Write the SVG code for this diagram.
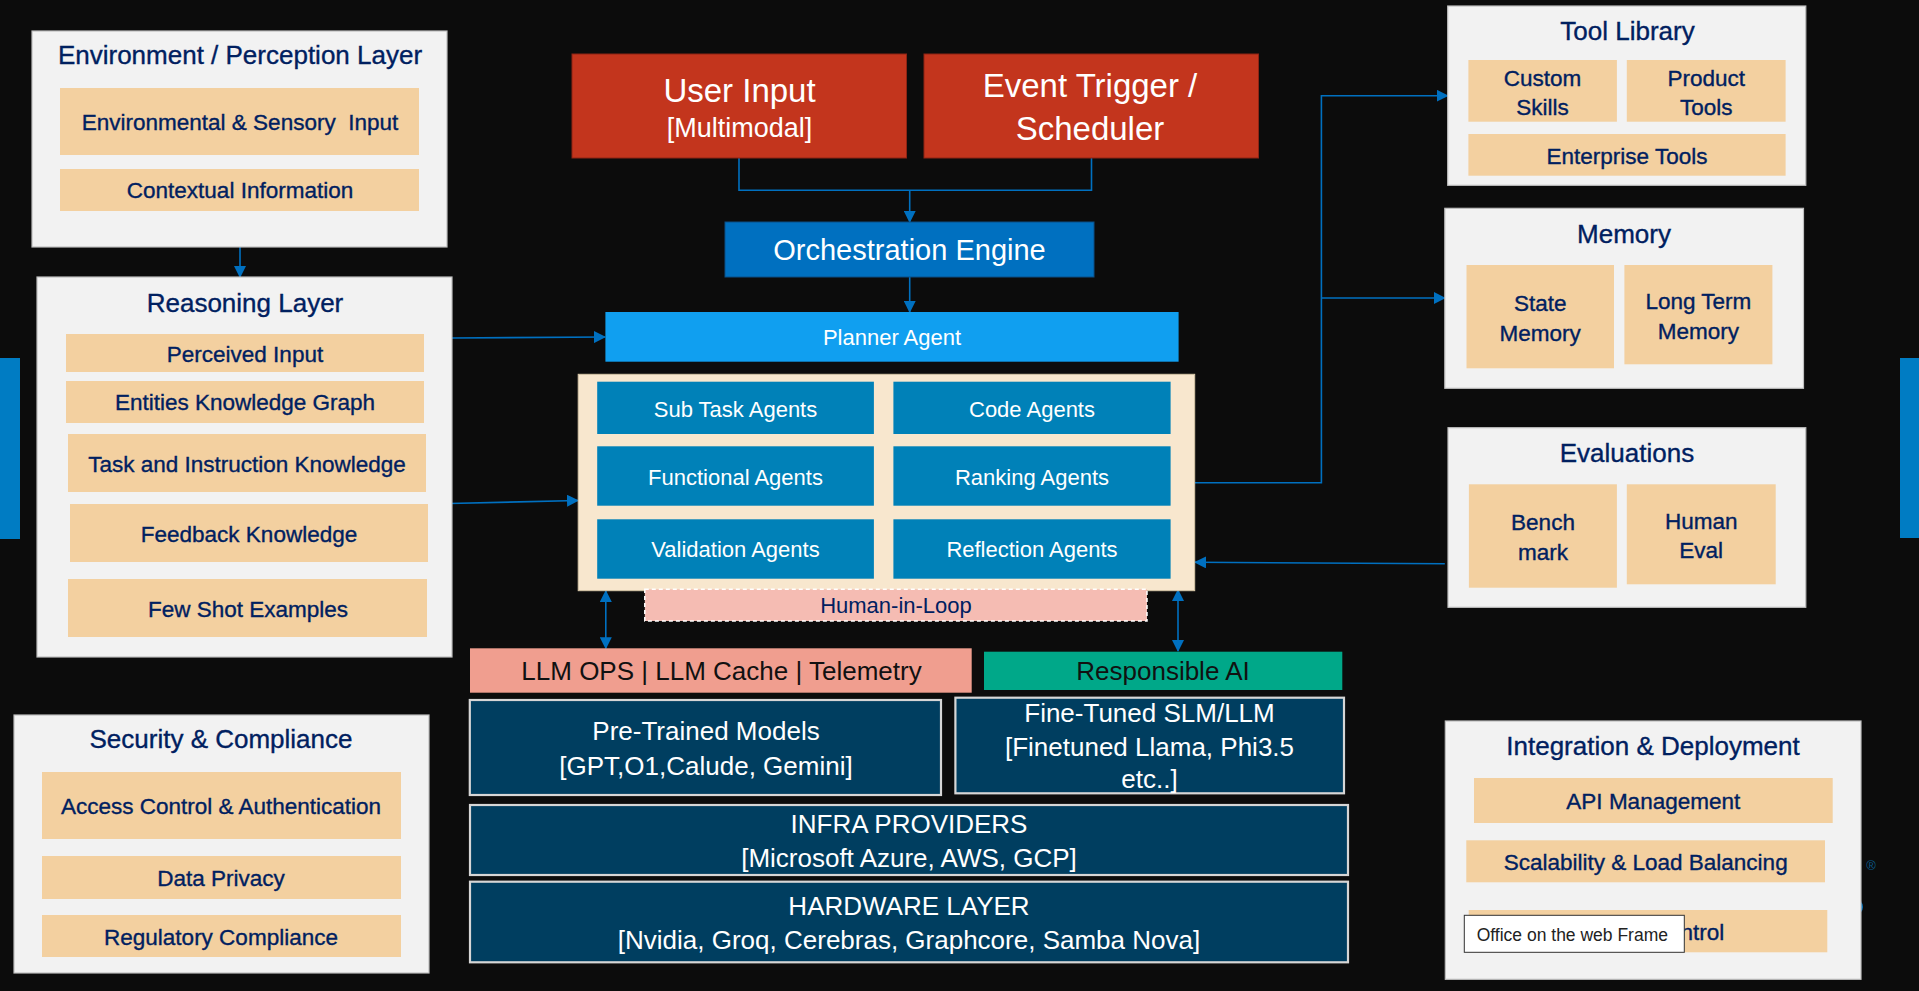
<svg xmlns="http://www.w3.org/2000/svg" width="1919" height="991" viewBox="0 0 1919 991">
<defs>
<style>
text{font-family:"Liberation Sans",Arial,sans-serif;text-anchor:middle}
.panel{fill:#F2F2F2;stroke:#BFBFBF;stroke-width:1.2}
.item{fill:#F3D0A0}
.ttl{font-size:26px;fill:#002060;stroke:#002060;stroke-width:0.35}
.it{font-size:22.5px;fill:#002060;stroke:#002060;stroke-width:0.35}
.red{fill:#C3351D;stroke:#8E2414;stroke-width:1}
.wt{fill:#FFFFFF}
.agent{fill:#0081B8}
.model{fill:#003E60;stroke:#D6D6D6;stroke-width:2.2}
.mt{font-size:26px;fill:#FFFFFF}
.conn{fill:none;stroke:#0070C0;stroke-width:1.6}
</style>
<marker id="ah" viewBox="0 0 12 12" refX="11" refY="6" markerWidth="12" markerHeight="12" markerUnits="userSpaceOnUse" orient="auto-start-reverse">
<path d="M0,0 L12,6 L0,12 z" fill="#0070C0"/>
</marker>
</defs>
<rect x="0" y="0" width="1919" height="991" fill="#0C0C0C"/>

<!-- side bars -->
<rect x="0" y="358" width="20" height="181" fill="#007CC3"/>
<rect x="1900" y="358" width="19" height="180" fill="#007CC3"/>
<circle cx="1855" cy="907" r="8" fill="#0A78C0"/>
<circle cx="1856" cy="878" r="4" fill="#0A5A8A"/>
<text x="1871" y="869.5" style="font-size:13px;fill:#0A5A8A">®</text>

<g id="connectors">
<path class="conn" d="M240,247 V277" marker-end="url(#ah)"/>
<path class="conn" d="M739,158 V190.3 H1091.5 V158"/>
<path class="conn" d="M909.7,190.3 V222" marker-end="url(#ah)"/>
<path class="conn" d="M909.7,277 V312" marker-end="url(#ah)"/>
<path class="conn" d="M452,338 L605,337" marker-end="url(#ah)"/>
<path class="conn" d="M449,503.5 L578,500.5" marker-end="url(#ah)"/>
<path class="conn" d="M1195,482.7 H1321.4 V95.7 H1447.7" marker-end="url(#ah)"/>
<path class="conn" d="M1321.4,298 H1444.8" marker-end="url(#ah)"/>
<path class="conn" d="M1444.8,563.7 L1195,562.3" marker-end="url(#ah)"/>
<path class="conn" d="M605.8,591 V648.3" marker-start="url(#ah)" marker-end="url(#ah)"/>
<path class="conn" d="M1178,590 V651" marker-start="url(#ah)" marker-end="url(#ah)"/>
</g>

<g id="environment">
<rect class="panel" x="32" y="31" width="415" height="216"/>
<text class="ttl" x="240" y="64">Environment / Perception Layer</text>
<rect class="item" x="60" y="88" width="359" height="67"/>
<text class="it" x="240" y="130" style="white-space:pre">Environmental &amp; Sensory  Input</text>
<rect class="item" x="60" y="169" width="359" height="42"/>
<text class="it" x="240" y="198">Contextual Information</text>
</g>

<g id="reasoning">
<rect class="panel" x="37" y="277" width="415" height="380"/>
<text class="ttl" x="245" y="312">Reasoning Layer</text>
<rect class="item" x="66" y="334" width="358" height="38"/>
<text class="it" x="245" y="361.5">Perceived Input</text>
<rect class="item" x="66" y="381" width="358" height="42"/>
<text class="it" x="245" y="410">Entities Knowledge Graph</text>
<rect class="item" x="68" y="434" width="358" height="58"/>
<text class="it" x="247" y="471.5">Task and Instruction Knowledge</text>
<rect class="item" x="70" y="504" width="358" height="58"/>
<text class="it" x="249" y="541.5">Feedback Knowledge</text>
<rect class="item" x="68" y="579" width="359" height="58"/>
<text class="it" x="248" y="616.5">Few Shot Examples</text>
</g>

<g id="security">
<rect class="panel" x="14" y="715" width="415" height="258"/>
<text class="ttl" x="221" y="748">Security &amp; Compliance</text>
<rect class="item" x="42" y="772" width="359" height="67"/>
<text class="it" x="221" y="814">Access Control &amp; Authentication</text>
<rect class="item" x="42" y="856" width="359" height="43"/>
<text class="it" x="221" y="885.5">Data Privacy</text>
<rect class="item" x="42" y="915" width="359" height="42"/>
<text class="it" x="221" y="945">Regulatory Compliance</text>
</g>

<g id="user-input">
<rect class="red" x="572" y="54" width="334.5" height="104"/>
<text class="wt" x="739.5" y="101.5" style="font-size:33px">User Input</text>
<text class="wt" x="739.5" y="137" style="font-size:27px">[Multimodal]</text>
</g>

<g id="event-trigger">
<rect class="red" x="924" y="54" width="334.5" height="104"/>
<text class="wt" x="1090" y="96.5" style="font-size:33px">Event Trigger /</text>
<text class="wt" x="1090" y="140" style="font-size:33px">Scheduler</text>
</g>

<g id="orchestration">
<rect x="725" y="222" width="369" height="55" fill="#0070C0" stroke="#0A4F86" stroke-width="1"/>
<text class="wt" x="909.5" y="260" style="font-size:29px">Orchestration Engine</text>
</g>

<g id="planner">
<rect x="605.4" y="312" width="573.2" height="49.7" fill="#109FF0"/>
<text class="wt" x="892" y="345" style="font-size:22px">Planner Agent</text>
</g>

<g id="agents">
<rect x="578.2" y="374.3" width="616.5" height="216.4" fill="#F8E7CE" stroke="#D8C7A8" stroke-width="1"/>
<rect class="agent" x="597.2" y="381.7" width="276.7" height="52.3"/>
<text class="wt" x="735.5" y="416.5" style="font-size:22px">Sub Task Agents</text>
<rect class="agent" x="893.4" y="381.7" width="277.2" height="52.3"/>
<text class="wt" x="1032" y="416.5" style="font-size:22px">Code Agents</text>
<rect class="agent" x="597.2" y="446.3" width="276.7" height="59.4"/>
<text class="wt" x="735.5" y="484.5" style="font-size:22px">Functional Agents</text>
<rect class="agent" x="893.4" y="446.3" width="277.2" height="59.4"/>
<text class="wt" x="1032" y="484.5" style="font-size:22px">Ranking Agents</text>
<rect class="agent" x="597.2" y="519.3" width="276.7" height="59.4"/>
<text class="wt" x="735.5" y="557" style="font-size:22px">Validation Agents</text>
<rect class="agent" x="893.4" y="519.3" width="277.2" height="59.4"/>
<text class="wt" x="1032" y="557" style="font-size:22px">Reflection Agents</text>
</g>

<g id="human-in-loop">
<rect x="644.8" y="589.3" width="502.2" height="31.7" fill="#F5BCB3" stroke="#FFFFFF" stroke-width="1.5" stroke-dasharray="4 3"/>
<text x="896" y="613" style="font-size:22px;fill:#002060">Human-in-Loop</text>
</g>

<g id="llm-ops">
<rect x="470" y="648.3" width="501.7" height="44.4" fill="#F09E8F"/>
<text x="721.5" y="680" style="font-size:26px;fill:#111111">LLM OPS | LLM Cache | Telemetry</text>
</g>

<g id="responsible-ai">
<rect x="984" y="651.7" width="358.3" height="38.3" fill="#00A889"/>
<text x="1163" y="680" style="font-size:26px;fill:#111111">Responsible AI</text>
</g>

<g id="pretrained">
<rect class="model" x="469.8" y="700" width="471.2" height="95"/>
<text class="mt" x="706" y="740">Pre-Trained Models</text>
<text class="mt" x="706" y="775">[GPT,O1,Calude, Gemini]</text>
</g>

<g id="finetuned">
<rect class="model" x="955.4" y="697.7" width="388.6" height="95.6"/>
<text class="mt" x="1149.5" y="721.5">Fine-Tuned SLM/LLM</text>
<text class="mt" x="1149.5" y="756">[Finetuned Llama, Phi3.5</text>
<text class="mt" x="1149.5" y="788.3">etc..]</text>
</g>

<g id="infra">
<rect class="model" x="470" y="805" width="878" height="70"/>
<text class="mt" x="909" y="832.7">INFRA PROVIDERS</text>
<text class="mt" x="909" y="867">[Microsoft Azure, AWS, GCP]</text>
</g>

<g id="hardware">
<rect class="model" x="470" y="881.7" width="878" height="80.6"/>
<text class="mt" x="909" y="915">HARDWARE LAYER</text>
<text class="mt" x="909" y="949">[Nvidia, Groq, Cerebras, Graphcore, Samba Nova]</text>
</g>

<g id="tool-library">
<rect class="panel" x="1447.7" y="6" width="358.1" height="179.3"/>
<text class="ttl" x="1627.5" y="40">Tool Library</text>
<rect class="item" x="1468.4" y="60" width="148.5" height="61.7"/>
<text class="it" x="1542.6" y="86">Custom</text>
<text class="it" x="1542.6" y="115">Skills</text>
<rect class="item" x="1626.8" y="60" width="158.8" height="61.7"/>
<text class="it" x="1706.2" y="86">Product</text>
<text class="it" x="1706.2" y="115">Tools</text>
<rect class="item" x="1468.4" y="134" width="317.2" height="41.7"/>
<text class="it" x="1627" y="164">Enterprise Tools</text>
</g>

<g id="memory">
<rect class="panel" x="1444.8" y="208.3" width="358.7" height="180"/>
<text class="ttl" x="1624" y="242.7">Memory</text>
<rect class="item" x="1466.5" y="265" width="147.5" height="103.3"/>
<text class="it" x="1540.2" y="311">State</text>
<text class="it" x="1540.2" y="340.7">Memory</text>
<rect class="item" x="1624.4" y="265" width="148" height="99.3"/>
<text class="it" x="1698.4" y="309.3">Long Term</text>
<text class="it" x="1698.4" y="339">Memory</text>
</g>

<g id="evaluations">
<rect class="panel" x="1448" y="427.7" width="357.8" height="179.6"/>
<text class="ttl" x="1627" y="461.7">Evaluations</text>
<rect class="item" x="1468.9" y="484.3" width="148" height="103.4"/>
<text class="it" x="1543" y="530">Bench</text>
<text class="it" x="1543" y="560">mark</text>
<rect class="item" x="1626.8" y="484.3" width="148.9" height="100"/>
<text class="it" x="1701.2" y="529">Human</text>
<text class="it" x="1701.2" y="557.7">Eval</text>
</g>

<g id="integration">
<rect class="panel" x="1445.3" y="721" width="415.7" height="258.3"/>
<text class="ttl" x="1653" y="755">Integration &amp; Deployment</text>
<rect class="item" x="1474" y="778" width="358.7" height="45"/>
<text class="it" x="1653.3" y="809">API Management</text>
<rect class="item" x="1466.3" y="840.3" width="358.7" height="42"/>
<text class="it" x="1645.7" y="870">Scalability &amp; Load Balancing</text>
<rect class="item" x="1468.7" y="910" width="358.6" height="42.3"/>
<text class="it" x="1724.3" y="940" style="text-anchor:end">ntrol</text>
</g>

<g id="tooltip">
<rect x="1464.3" y="915.3" width="220" height="37" fill="#FFFFFF" stroke="#333333" stroke-width="1"/>
<text x="1476.7" y="940.5" style="font-size:17.5px;fill:#222222;text-anchor:start">Office on the web Frame</text>
</g>
</svg>
